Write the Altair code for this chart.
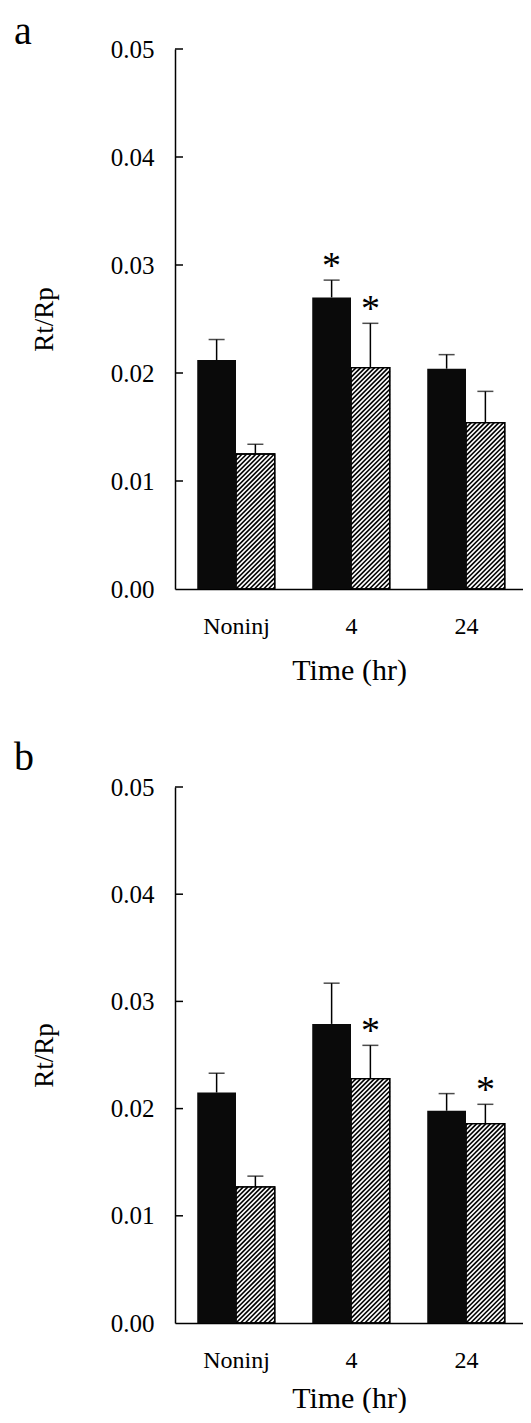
import json
import math
import altair as alt
import pandas as pd

# ---------------- data ----------------
categories = ["Noninj", "4", "24"]
y_ticks = [0.00, 0.01, 0.02, 0.03, 0.04, 0.05]

# panel a
a_solid = [0.0212, 0.0270, 0.0204]
a_solid_err = [0.0019, 0.0016, 0.0013]
a_hatched = [0.0125, 0.0205, 0.0154]
a_hatched_err = [0.0009, 0.0041, 0.0029]
a_star_solid = [False, True, False]
a_star_hatched = [False, True, False]

# panel b
b_solid = [0.0215, 0.0279, 0.0198]
b_solid_err = [0.0018, 0.0038, 0.0016]
b_hatched = [0.0127, 0.0228, 0.0186]
b_hatched_err = [0.0010, 0.0031, 0.0018]
b_star_solid = [False, False, False]
b_star_hatched = [False, True, True]

FONT = "Liberation Serif"
BAR_W = 0.337
Y_MAX = 0.05


def make_bars(solid, solid_err, hatched, hatched_err, star_solid, star_hatched):
    rows = []
    for i, cat in enumerate(categories):
        for kind, vals, errs, stars, off in (
            ("solid", solid, solid_err, star_solid, -BAR_W),
            ("hatched", hatched, hatched_err, star_hatched, 0.0),
        ):
            x0 = i + off
            rows.append({
                "time": cat, "kind": kind,
                "x0": x0, "x1": x0 + BAR_W, "xc": x0 + BAR_W / 2,
                "value": vals[i], "base": 0.0, "top": vals[i] + errs[i],
                "star": "*" if stars[i] else "",
            })
    return pd.DataFrame(rows)


def make_hatch(bars, domain, width, height, period=4.6):
    # diagonal "/" hatch lines clipped to each hatched bar
    kx = width / (domain[1] - domain[0])
    ky = height / Y_MAX
    segs = []
    for r in bars[bars.kind == "hatched"].itertuples():
        xl, xr, yt = r.x0 * kx, r.x1 * kx, r.value * ky
        k0 = math.floor(-yt / period) - 1
        k1 = math.ceil((xr - xl) / period) + 1
        for k in range(k0, k1 + 1):
            c = xl + k * period
            y_lo = max(0.0, xl - c)
            y_hi = min(yt, xr - c)
            if y_hi - y_lo > 0.5:
                segs.append({"hx": (y_lo + c) / kx, "hy": y_lo / ky,
                             "hx2": (y_hi + c) / kx, "hy2": y_hi / ky})
    return pd.DataFrame(segs)


def panel(label, bars, domain, width, height, letter_x, letter_y,
          x_label_pad, x_title_pad):
    hatch = make_hatch(bars, domain, width, height)
    xs = alt.Scale(domain=domain, nice=False, zero=False)
    ys = alt.Scale(domain=[0, Y_MAX], nice=False, zero=True)
    x_axis = alt.Axis(
        values=[0, 1, 2], labelExpr=json.dumps(categories) + "[datum.value]",
        title="Time (hr)", ticks=False, grid=False,
        domainColor="black", domainWidth=1.5,
        labelFontSize=24, labelBaseline="alphabetic", labelPadding=x_label_pad,
        labelFlush=False, labelOverlap=False,
        titleFontSize=30, titleBaseline="alphabetic", titlePadding=x_title_pad,
    )
    y_axis = alt.Axis(
        values=y_ticks, format=".2f", ticks=False, grid=False,
        domainColor="black", domainWidth=1.5,
        labelFontSize=25, labelPadding=21, labelFlush=False, labelOverlap=False,
        title="Rt/Rp", titleFontSize=27, titleBaseline="alphabetic", titlePadding=58,
    )
    X = lambda f: alt.X(f, scale=xs, axis=x_axis)
    Y = lambda f: alt.Y(f, scale=ys, axis=y_axis)

    hb = bars[bars.kind == "hatched"]
    sb = bars[bars.kind == "solid"]

    white = alt.Chart(hb).mark_bar(fill="white", stroke="black", strokeWidth=1.3).encode(
        x=X("x0:Q"), x2="x1:Q", y=Y("value:Q"), y2="base:Q",
    )
    lines = alt.Chart(hatch).mark_rule(color="black", strokeWidth=1.6).encode(
        x=X("hx:Q"), x2="hx2:Q", y=Y("hy:Q"), y2="hy2:Q",
    )
    outline = alt.Chart(hb).mark_bar(fillOpacity=0, stroke="black", strokeWidth=1.3).encode(
        x=X("x0:Q"), x2="x1:Q", y=Y("value:Q"), y2="base:Q",
    )
    solid = alt.Chart(sb).mark_bar(color="#0a0a0a").encode(
        x=X("x0:Q"), x2="x1:Q", y=Y("value:Q"), y2="base:Q",
    )
    stems = alt.Chart(bars).mark_rule(color="black", strokeWidth=1.5).encode(
        x=X("xc:Q"), y=Y("value:Q"), y2="top:Q",
    )
    caps = alt.Chart(bars).mark_tick(color="black", orient="horizontal", size=16, thickness=1.5).encode(
        x=X("xc:Q"), y=Y("top:Q"),
    )
    stars = alt.Chart(bars[bars.star != ""]).mark_text(
        font=FONT, fontSize=38, color="black", baseline="alphabetic", align="center", dy=-2
    ).encode(
        x=X("xc:Q"), y=Y("top:Q"), text="star:N",
    )
    ticks = alt.Chart(pd.DataFrame({"v": y_ticks[1:]})).mark_rule(color="black", strokeWidth=1.5).encode(
        y=Y("v:Q"), x=alt.value(0), x2=alt.value(8),
    )
    letter = alt.Chart(pd.DataFrame({"t": [label]})).mark_text(
        font=FONT, fontSize=40, color="black", baseline="top", align="left"
    ).encode(text="t:N", x=alt.value(letter_x), y=alt.value(letter_y))
    return alt.layer(white, lines, outline, solid, stems, caps, stars, ticks, letter).properties(
        width=width, height=height,
    )


bars_a = make_bars(a_solid, a_solid_err, a_hatched, a_hatched_err, a_star_solid, a_star_hatched)
bars_b = make_bars(b_solid, b_solid_err, b_hatched, b_hatched_err, b_star_solid, b_star_hatched)

pa = panel("a", bars_a, [-61 / 115, 287 / 115], 348, 540, -161, -37, 44, 41)
pb = panel("b", bars_b, [-61 / 115, 287 / 115], 348, 536, -161, -49, 44, 35)

chart = alt.vconcat(pa, pb, spacing=53).properties(
    padding={"left": 6, "top": 4, "right": 0, "bottom": 0}
).configure_view(strokeWidth=0).configure_axis(
    labelFont=FONT, titleFont=FONT, labelColor="black", titleColor="black",
    titleFontWeight="normal",
)

chart.save("out.html", embed_options={"renderer": "svg", "actions": False})
